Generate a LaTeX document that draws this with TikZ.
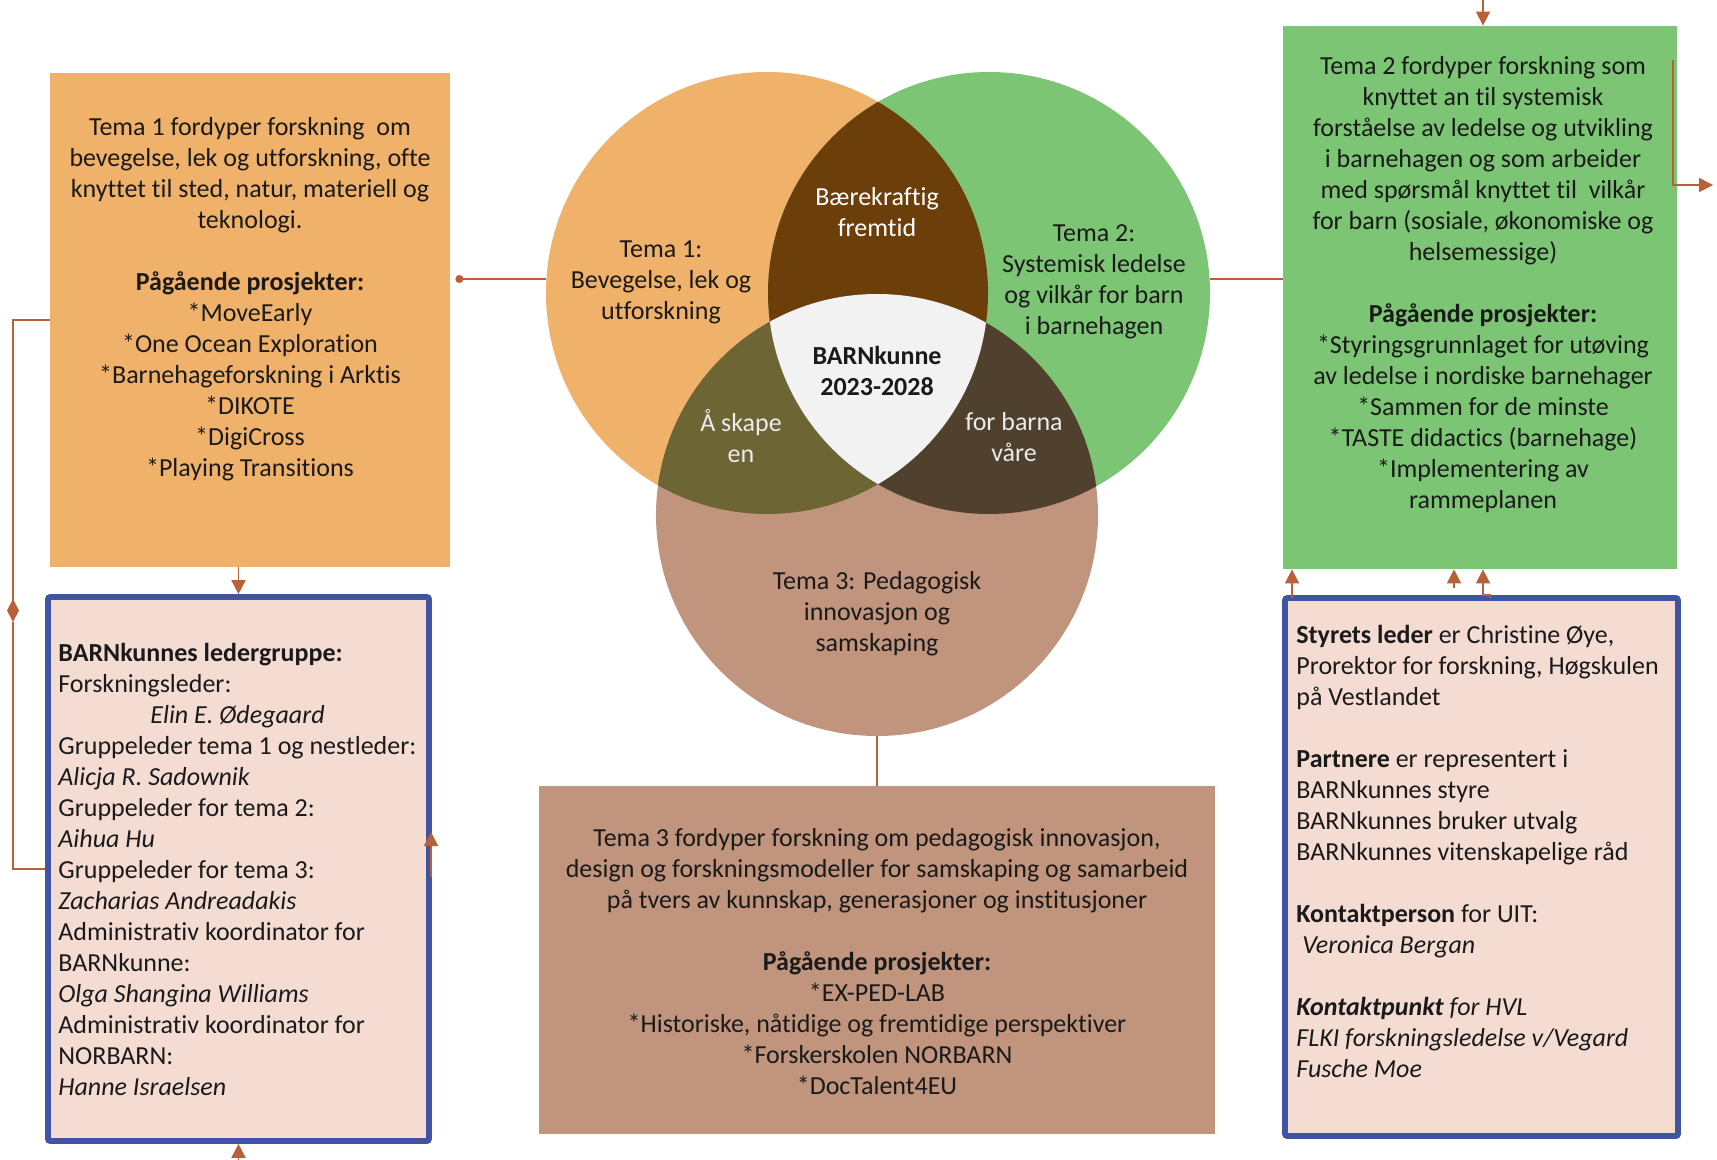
\documentclass[tikz,border=0pt]{standalone}
\usepackage{fontspec}
\setmainfont{Carlito}[Ligatures=NoCommon]
\usetikzlibrary{arrows.meta,calc}
\definecolor{temaen}{RGB}{240,178,107}
\definecolor{temato}{RGB}{124,197,116}
\definecolor{tematre}{RGB}{192,148,125}
\definecolor{snitten}{RGB}{108,62,10}
\definecolor{snittto}{RGB}{110,101,53}
\definecolor{snitttre}{RGB}{79,65,45}
\definecolor{kjerne}{RGB}{242,242,242}
\definecolor{rosa}{RGB}{245,220,210}
\definecolor{kant}{RGB}{64,84,164}
\definecolor{linje}{RGB}{184,96,56}
\definecolor{tekst}{RGB}{26,26,26}

\begin{document}
\begin{tikzpicture}[x=0.5pt,y=-0.5pt,
  txt/.style={font=\fontsize{13}{15.5}\selectfont,text=tekst,inner sep=0pt},
  txtb/.style={font=\fontsize{13}{15.5}\selectfont\bfseries,text=tekst,inner sep=0pt},
  boks/.style={inner sep=0pt},
  rammeboks/.style={fill=rosa,draw=kant,line width=2.8pt,inner sep=0pt,rounded corners=1pt},
  sirkel/.style={circle,inner sep=0pt,minimum size=221pt},
  conn/.style={draw=linje,line width=0.8pt},
  tri/.style={-{Triangle[length=7pt,width=7pt]}}]
\useasboundingbox (0,0) rectangle (1717,1160);

\node[sirkel] (c1) at (767,293) {};
\node[sirkel] (c2) at (989,293) {};
\node[sirkel] (c3) at (877,515) {};
\fill[temaen] (c1.center) circle[radius=110.5pt];
\fill[temato] (c2.center) circle[radius=110.5pt];
\fill[tematre] (c3.center) circle[radius=110.5pt];
\begin{scope}
\clip (c1.center) circle[radius=110.5pt];
\fill[snitten] (c2.center) circle[radius=110.5pt];
\fill[snittto] (c3.center) circle[radius=110.5pt];
\end{scope}
\begin{scope}
\clip (c2.center) circle[radius=110.5pt];
\fill[snitttre] (c3.center) circle[radius=110.5pt];
\clip (c1.center) circle[radius=110.5pt];
\fill[kjerne] (c3.center) circle[radius=110.5pt];
\end{scope}

\node[txt,align=center] (l1) at (661,282) {Tema 1:\\Bevegelse, lek og\\utforskning};
\node[txt,align=center] (l2) at (1094,282) {Tema 2:\\Systemisk ledelse\\og vilkår for barn\\i barnehagen};
\node[txt,align=center] (l3) at (877,614) {Tema 3: Pedagogisk\\innovasjon og\\samskaping};
\node[txt,align=center,text=white] (l12) at (877,212) {Bærekraftig\\fremtid};
\node[txt,align=center,text=black!8] (l13) at (741,436) {Å skape\\en};
\node[txt,align=center,text=black!8] (l23) at (1014,437) {for barna\\våre};
\node[txtb,align=center] (midt) at (877,371) {BARNkunne\\2023-2028};

\node[boks,fill=temaen,minimum width=200pt,minimum height=247pt] (t1box) at (250,320) {};
\node[txt,align=center,anchor=north] (t1tekst) at (250,117) {Tema 1 fordyper forskning \ om\\bevegelse, lek og utforskning, ofte\\knyttet til sted, natur, materiell og\\teknologi.\\[15.5pt]
  \textbf{Pågående prosjekter:}\\*MoveEarly\\*One Ocean Exploration\\*Barnehageforskning i Arktis\\*DIKOTE\\*DigiCross\\*Playing Transitions};

\node[boks,fill=temato,minimum width=197pt,minimum height=271.5pt] (t2box) at (1480,297.5) {};
\node[txt,align=center,anchor=north] (t2tekst) at (1483,56) {Tema 2 fordyper forskning som\\knyttet an til systemisk\\forståelse av ledelse og utvikling\\i barnehagen og som arbeider\\med spørsmål knyttet til \ vilkår\\for barn (sosiale, økonomiske og\\helsemessige)\\[15.5pt]
  \textbf{Pågående prosjekter:}\\*Styringsgrunnlaget for utøving\\av ledelse i nordiske barnehager\\*Sammen for de minste\\*TASTE didactics (barnehage)\\*Implementering av\\rammeplanen};

\node[boks,fill=tematre,minimum width=338pt,minimum height=174pt] (t3box) at (877,960) {};
\node[txt,align=center,anchor=north] (t3tekst) at (877,828) {Tema 3 fordyper forskning om pedagogisk innovasjon,\\design og forskningsmodeller for samskaping og samarbeid\\på tvers av kunnskap, generasjoner og institusjoner\\[15.5pt]
  \textbf{Pågående prosjekter:}\\*EX-PED-LAB\\*Historiske, nåtidige og fremtidige perspektiver\\*Forskerskolen NORBARN\\*DocTalent4EU};

\node[rammeboks,minimum width=190.5pt,minimum height=272pt] (ledelse) at (238.5,869) {};
\node[txt,align=left,anchor=north west] (ledtekst) at (58,643) {\textbf{BARNkunnes ledergruppe:}\\Forskningsleder:\\\hspace*{46pt}\textit{Elin E. Ødegaard}\\Gruppeleder tema 1 og nestleder:\\\textit{Alicja R. Sadownik}\\Gruppeleder for tema 2:\\\textit{Aihua Hu}\\Gruppeleder for tema 3:\\\textit{Zacharias Andreadakis}\\Administrativ koordinator for\\BARNkunne:\\\textit{Olga Shangina Williams}\\Administrativ koordinator for\\NORBARN:\\\textit{Hanne Israelsen}};

\node[rammeboks,minimum width=196.5pt,minimum height=269pt] (styre) at (1481.5,867) {};
\node[txt,align=left,anchor=north west] (styretekst) at (1296,625) {\textbf{Styrets leder} er Christine Øye,\\Prorektor for forskning, Høgskulen\\på Vestlandet\\[15.5pt]
  \textbf{Partnere} er representert i\\BARNkunnes styre\\BARNkunnes bruker utvalg\\BARNkunnes vitenskapelige råd\\[15.5pt]
  \textbf{Kontaktperson} for UIT:\\\hspace*{3pt}\textit{Veronica Bergan}\\[15.5pt]
  \textbf{\textit{Kontaktpunkt}} \textit{for HVL}\\\textit{FLKI forskningsledelse v/Vegard}\\\textit{Fusche Moe}};

\coordinate (r1) at ([yshift=7pt]c1.west);
\coordinate (r2) at ([yshift=7pt]c2.east);
\draw[conn,{Circle[length=4pt]}-] ($(r1 -| t1box.east)+(5,0)$) -- (r1);
\draw[conn] (r2) -- (r2 -| t2box.west);
\draw[conn] (c3.south) -- (t3box.north);

\coordinate (ldiam) at (13,622);
\draw[conn,-{Diamond[length=11.5pt,width=6pt]}] (t1box.west) -| (ldiam);
\draw[conn] (ldiam) |- (ledelse.west);
\draw[conn,tri] (ledelse.north |- t1box.south) -- (ledelse.north);
\coordinate (lunder) at (238.5,1160);
\draw[conn,tri] (lunder) -- (ledelse.south);
\coordinate (lside) at (431,832);
\draw[conn,tri] ($(lside)+(0,45)$) -- (lside);

\coordinate (topp) at (1483,0);
\draw[conn,tri] (topp) -- (topp |- t2box.north);
\coordinate (gstart) at (1673,60);
\coordinate (gut) at (1713,185);
\draw[conn,tri] (gstart) |- (gut);

\coordinate (p1) at (1292,598);
\coordinate (p2) at (1454,588);
\coordinate (p3) at (1490,598);
\draw[conn,tri] (p1) -- (p1 |- t2box.south);
\draw[conn,tri] (p2) -- (p2 |- t2box.south);
\draw[conn,tri] (p3) -- ++(0,-3) -| (topp |- t2box.south);
\end{tikzpicture}
\end{document}
